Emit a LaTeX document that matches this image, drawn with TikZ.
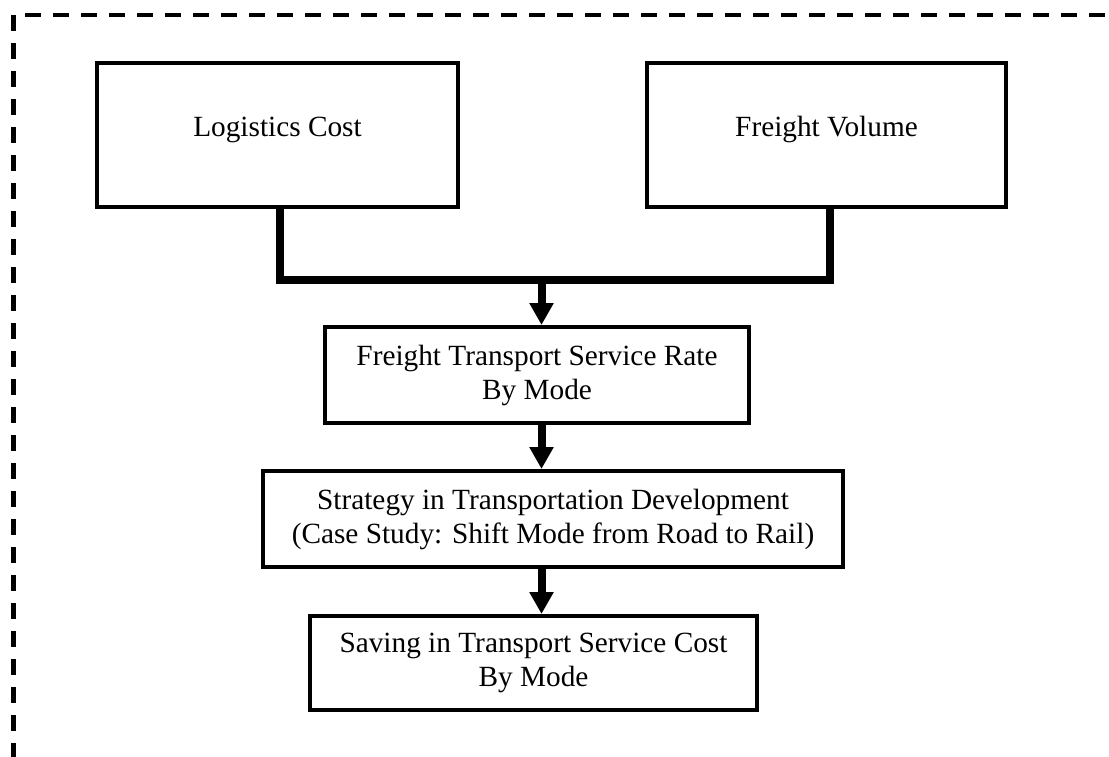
\documentclass[tikz,border=0pt]{standalone}
\usepackage{fontspec}
\setmainfont{Liberation Serif}
\usetikzlibrary{arrows.meta}
\begin{document}
\begin{tikzpicture}[x=1pt,y=-1pt,
  every node/.style={font=\fontsize{29.3}{34}\selectfont},
  box/.style={draw, line width=4pt, rectangle, align=center, inner sep=0pt},
  onebox/.style={box, text height=20pt, text depth=17pt},
  conn/.style={line width=8pt, line join=miter},
  arr/.style={line width=8pt, -{Triangle[width=23pt,length=22pt]}},
  border/.style={line width=4.5pt, dash pattern=on 16pt off 12pt}]
\clip (0,0) rectangle (1109,756);
% dashed frame
\draw[border] (13.7,15) -- (13.7,770);
\draw[border] (25,15) -- (1120,15);
% boxes
\node[onebox, minimum width=361pt, minimum height=144pt] (lc) at (277.5,135) {Logistics Cost};
\node[onebox, minimum width=359pt, minimum height=144pt] (fv) at (826.5,135) {Freight Volume};
\node[box, minimum width=424pt, minimum height=96pt] (b2) at (537,375) {Freight Transport Service Rate\\By Mode};
\node[box, minimum width=580pt, minimum height=96pt] (b3) at (553,519) {Strategy in Transportation Development\\(Case Study: Shift Mode from Road to Rail)};
\node[box, minimum width=447pt, minimum height=94pt] (b4) at (533.5,663) {Saving in Transport Service Cost\\By Mode};
% connector guides
\coordinate (lx) at (280,0);
\coordinate (rx) at (829.5,0);
\coordinate (j) at (541.5,279.5);
\draw[conn] (lc.south -| lx) -- (lx |- j) -- (rx |- j) -- (fv.south -| rx);
\draw[arr] (j) -- (b2.north -| j);
\draw[arr] (b2.south -| j) -- (b3.north -| j);
\draw[arr] (b3.south -| j) -- (b4.north -| j);
\end{tikzpicture}
\end{document}
